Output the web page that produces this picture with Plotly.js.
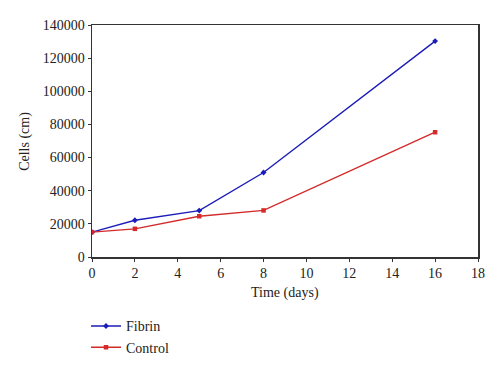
<!DOCTYPE html>
<html><head><meta charset="utf-8">
<script src="https://cdn.plot.ly/plotly-3.0.1.min.js"></script>
<style>body{margin:0;padding:0;background:#fff}#c{width:500px;height:374px}</style>
</head><body><div id="c"></div>
<script>
var days = [0, 2, 5, 8, 16];
var fibrin = [15000, 22200, 28000, 51000, 130300];
var control = [15000, 17000, 24600, 28100, 75300];
var seriesNames = ["Fibrin", "Control"];
var xTicks = [0, 2, 4, 6, 8, 10, 12, 14, 16, 18];
var yTicks = [0, 20000, 40000, 60000, 80000, 100000, 120000, 140000];
var xTitle = "Time (days)";
var yTitle = "Cells (cm)";

var font = {family: "Liberation Serif, Times New Roman, serif", size: 14, color: "#222"};
var traces = [
  {x: days, y: fibrin, name: seriesNames[0], mode: "lines+markers", type: "scatter",
   line: {color: "#1c1cb8", width: 1.4}, marker: {symbol: "diamond", size: 4.5, color: "#1c1cb8"}},
  {x: days, y: control, name: seriesNames[1], mode: "lines+markers", type: "scatter",
   line: {color: "#d42a2a", width: 1.4}, marker: {symbol: "square", size: 4.5, color: "#d42a2a"}}
];
var axisCommon = {showgrid: false, zeroline: false, showline: true, linecolor: "#333", linewidth: 1.5,
  mirror: true, ticks: "outside", ticklen: 3, tickcolor: "#333", tickfont: font, automargin: false};
var layout = {
  width: 500, height: 374, font: font,
  paper_bgcolor: "#fff", plot_bgcolor: "#fff",
  margin: {l: 92, r: 22, t: 25, b: 117, autoexpand: false},
  xaxis: Object.assign({}, axisCommon, {range: [0, 18], tickvals: xTicks, ticktext: xTicks.map(String)}),
  yaxis: Object.assign({}, axisCommon, {range: [0, 140000], tickvals: yTicks, ticktext: yTicks.map(String)}),
  annotations: [
    {text: xTitle, xref: "paper", yref: "paper", x: 0.5, y: -0.155, xanchor: "center", yanchor: "middle",
     showarrow: false, font: font},
    {text: yTitle, xref: "paper", yref: "paper", x: -0.174, y: 0.5, xanchor: "center", yanchor: "middle",
     textangle: -90, showarrow: false, font: font}
  ],
  showlegend: true,
  legend: {xref: "container", yref: "container", x: 0.172, y: 0.17, xanchor: "left", yanchor: "top",
    font: font, itemwidth: 30, tracegroupgap: 0, bgcolor: "rgba(0,0,0,0)"}
};
Plotly.newPlot("c", traces, layout, {displayModeBar: false, staticPlot: true});
</script></body></html>
